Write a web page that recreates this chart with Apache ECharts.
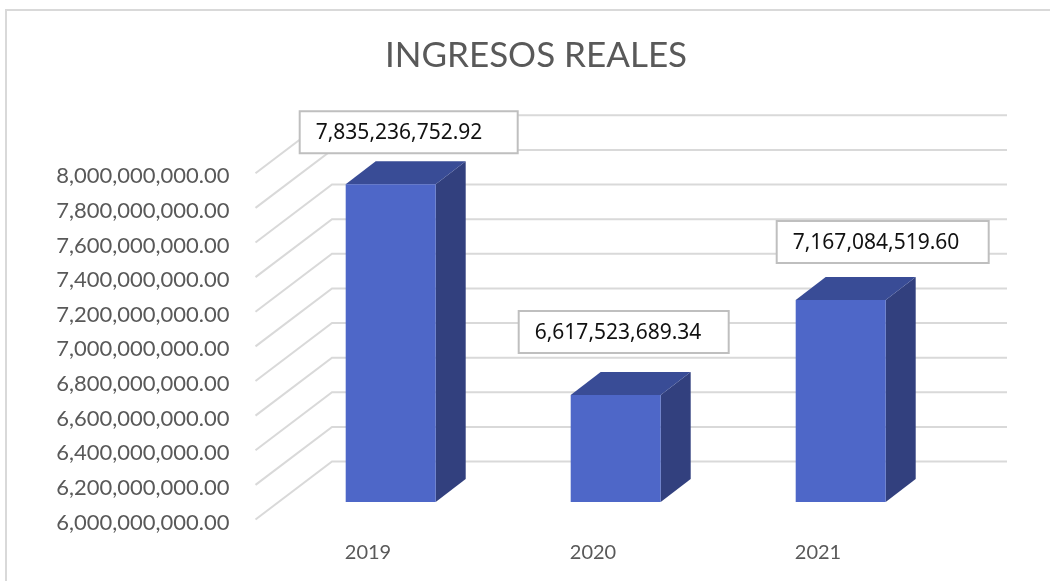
<!DOCTYPE html>
<html>
<head>
<meta charset="utf-8">
<title>Ingresos reales</title>
<script src="https://cdn.jsdelivr.net/npm/echarts@6/dist/echarts.min.js"></script>
<style>
html, body { margin: 0; padding: 0; background: #fff; }
#main { width: 1050px; height: 581px; }
</style>
</head>
<body>
<div id="main"></div>
<script>
const categories = ['2019', '2020', '2021'];
const ingresos = [7835236752.92, 6617523689.34, 7167084519.60];
const yTicks = [6e9, 6.2e9, 6.4e9, 6.6e9, 6.8e9, 7e9, 7.2e9, 7.4e9, 7.6e9, 7.8e9, 8e9];

// fake 3d: how far the wall, the bar plane and the bar top are pushed back
const wallDepth = [76.5, -58];
const barPlane = [22.7, -17.6];
const barDepth = [30, -23];
// data labels were moved by hand in the original chart
const labelBoxes = [
  { dx: 18, dy: -52, w: 218 },
  { dx: 8, dy: -63, w: 210 },
  { dx: 42, dy: -58, w: 212 }
];

const fmt = v => v.toLocaleString('en-US', { minimumFractionDigits: 2, maximumFractionDigits: 2 });

function renderWall (params, api) {
  const sys = params.coordSys;
  const y = api.coord([0, api.value(1)])[1];
  return {
    type: 'polyline',
    shape: {
      points: [
        [sys.x, y],
        [sys.x + wallDepth[0], y + wallDepth[1]],
        [sys.x + sys.width + wallDepth[0], y + wallDepth[1]]
      ]
    },
    style: { fill: null, stroke: '#d9d9d9', lineWidth: 2 }
  };
}

function renderBar (params, api) {
  const top = api.coord([api.value(0), api.value(1)]);
  const base = api.coord([api.value(0), yTicks[0]]);
  const w = api.size([1, 0])[0] * 0.4;
  const x0 = top[0] + barPlane[0] - w / 2;
  const x1 = x0 + w;
  const y0 = top[1] + barPlane[1];
  const y1 = base[1] + barPlane[1];
  const [dx, dy] = barDepth;
  const box = labelBoxes[params.dataIndex];
  const cx = (x0 + x1) / 2 + box.dx;
  const cy = y0 + box.dy;
  return {
    type: 'group',
    children: [
      {
        type: 'polygon',
        shape: { points: [[x1, y0], [x1 + dx, y0 + dy], [x1 + dx, y1 + dy], [x1, y1]] },
        style: { fill: '#32407e' }
      },
      {
        type: 'polygon',
        shape: { points: [[x0, y0], [x0 + dx, y0 + dy], [x1 + dx, y0 + dy], [x1, y0]] },
        style: { fill: '#394c96' }
      },
      {
        type: 'rect',
        shape: { x: x0, y: y0, width: w, height: y1 - y0 },
        style: { fill: '#4e67c8' }
      },
      {
        type: 'rect',
        shape: { x: cx - box.w / 2, y: cy - 21, width: box.w, height: 42 },
        style: { fill: '#fff', stroke: '#bfbfbf', lineWidth: 2 }
      },
      {
        type: 'text',
        x: cx - box.w / 2 + 16,
        y: cy + 1,
        style: {
          text: fmt(api.value(1)),
          x: 0,
          y: 0,
          align: 'left',
          verticalAlign: 'middle',
          fill: '#111',
          font: '21px "Noto Sans"'
        }
      }
    ]
  };
}

const option = {
  animation: false,
  backgroundColor: '#fff',
  title: {
    text: 'INGRESOS REALES',
    left: 531,
    top: 33,
    textAlign: 'center',
    textStyle: { color: '#595959', fontFamily: 'Lato', fontSize: 35, fontWeight: 'normal' }
  },
  graphic: [{
    type: 'rect',
    shape: { x: 6, y: 10, width: 1100, height: 620 },
    style: { fill: 'none', stroke: '#d9d9d9', lineWidth: 2 },
    silent: true
  }],
  grid: { left: 255.5, top: 173.3, width: 675, height: 346.2 },
  xAxis: {
    type: 'category',
    data: categories,
    axisLine: { show: false },
    axisTick: { show: false },
    axisLabel: { color: '#595959', fontFamily: 'Lato', fontSize: 20, margin: 23 }
  },
  yAxis: {
    type: 'value',
    min: 6e9,
    max: 8e9,
    interval: 2e8,
    splitLine: { show: false },
    axisLine: { show: false },
    axisTick: { show: false },
    axisLabel: {
      color: '#595959',
      fontFamily: 'Lato',
      fontSize: 22,
      margin: 26,
      verticalAlign: 'top',
      lineHeight: 6,
      formatter: v => fmt(v)
    }
  },
  series: [
    {
      type: 'custom',
      silent: true,
      clip: false,
      z: 1,
      renderItem: renderWall,
      data: yTicks.map(v => [0, v])
    },
    {
      type: 'custom',
      silent: true,
      clip: false,
      z: 2,
      renderItem: renderBar,
      data: ingresos.map((v, i) => [i, v])
    }
  ]
};

const myChart = echarts.init(document.getElementById('main'));
myChart.setOption(option);
</script>
</body>
</html>
